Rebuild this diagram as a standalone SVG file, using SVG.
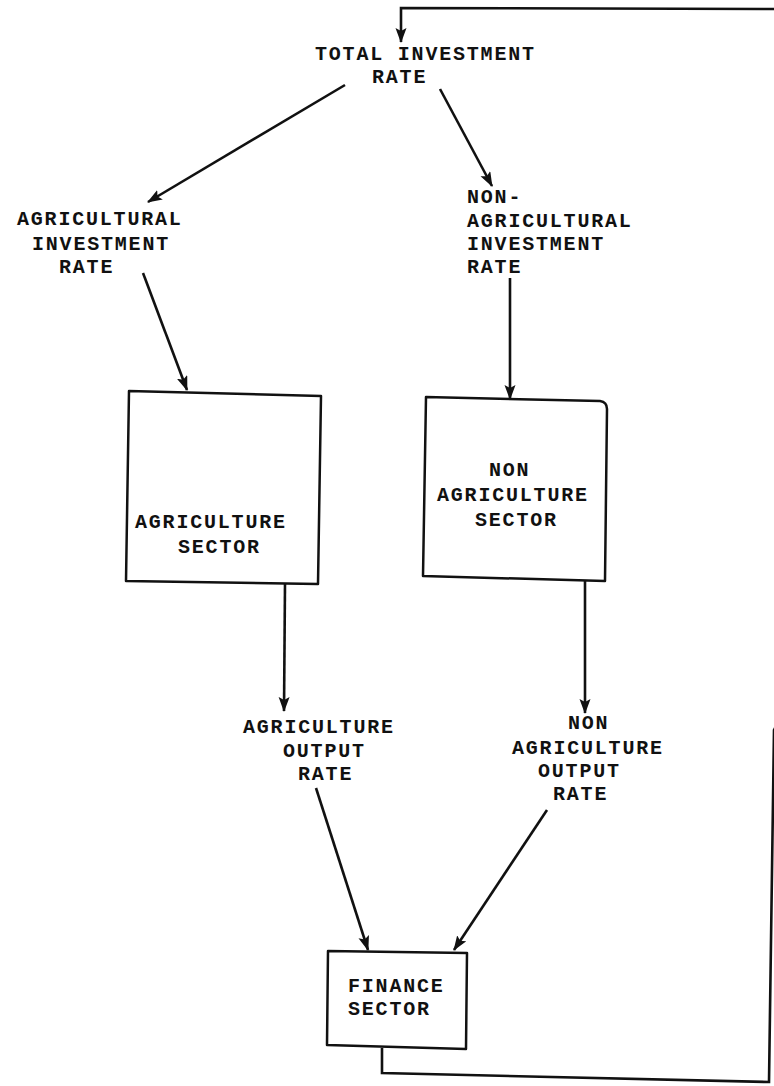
<svg xmlns="http://www.w3.org/2000/svg" width="774" height="1086" viewBox="0 0 774 1086">
  <style>
    text { font-family: "Liberation Mono", "Courier New", monospace; font-weight: bold; font-size: 20px; letter-spacing: 1.8px; fill: #111; }
    .box { fill: none; stroke: #111; stroke-width: 2.5; stroke-linejoin: round; }
    .conn { fill: none; stroke: #111; stroke-width: 2.6; marker-end: url(#arrow); }
  </style>
  <defs>
    <marker id="arrow" markerUnits="userSpaceOnUse" markerWidth="15" markerHeight="12" refX="14" refY="5.5" orient="auto">
      <path d="M0,0 L15,5.5 L0,11 L3,5.5 z" fill="#111"/>
    </marker>
  </defs>
  <rect width="774" height="1086" fill="#fff"/>

  <g id="total-investment-rate">
    <text x="315" y="60">TOTAL INVESTMENT</text>
    <text x="372" y="83">RATE</text>
  </g>

  <g id="agricultural-investment-rate">
    <text x="17" y="225">AGRICULTURAL</text>
    <text x="32" y="250">INVESTMENT</text>
    <text x="59" y="273">RATE</text>
  </g>

  <g id="non-agricultural-investment-rate">
    <text x="467" y="203">NON-</text>
    <text x="467" y="227">AGRICULTURAL</text>
    <text x="467" y="250">INVESTMENT</text>
    <text x="467" y="273">RATE</text>
  </g>

  <g id="agriculture-sector">
    <polygon class="box" points="129,391 321,396 318,584 126,581"/>
    <text x="135" y="528">AGRICULTURE</text>
    <text x="178" y="553">SECTOR</text>
  </g>

  <g id="non-agriculture-sector">
    <path class="box" d="M426,397 L600,401 Q607,402 607,409 L605,581 L423,576 Z"/>
    <text x="489" y="476">NON</text>
    <text x="437" y="501">AGRICULTURE</text>
    <text x="475" y="526">SECTOR</text>
  </g>

  <g id="agriculture-output-rate">
    <text x="243" y="733">AGRICULTURE</text>
    <text x="283" y="757">OUTPUT</text>
    <text x="298" y="780">RATE</text>
  </g>

  <g id="non-agriculture-output-rate">
    <text x="568" y="729">NON</text>
    <text x="512" y="754">AGRICULTURE</text>
    <text x="538" y="777">OUTPUT</text>
    <text x="553" y="800">RATE</text>
  </g>

  <g id="finance-sector">
    <polygon class="box" points="328,951 467,953 466,1049 327,1045"/>
    <text x="348" y="992">FINANCE</text>
    <text x="348" y="1015">SECTOR</text>
  </g>

  <g id="connectors">
    <line class="conn" x1="345" y1="85" x2="148" y2="202"/>
    <line class="conn" x1="440" y1="89" x2="492" y2="186"/>
    <line class="conn" x1="143" y1="273" x2="187" y2="390"/>
    <line class="conn" x1="510" y1="278" x2="510" y2="399"/>
    <line class="conn" x1="285" y1="583" x2="284" y2="711"/>
    <line class="conn" x1="585" y1="580" x2="585" y2="713"/>
    <line class="conn" x1="316" y1="788" x2="368" y2="950"/>
    <line class="conn" x1="547" y1="810" x2="454" y2="950"/>
    <path class="conn" d="M382,1048 L382,1073 L769,1082 L774,730 L790,700 L790,9 L401,8 L401,42"/>
  </g>
</svg>
